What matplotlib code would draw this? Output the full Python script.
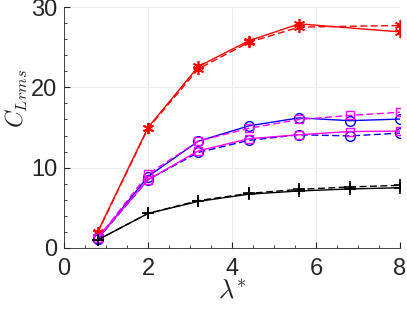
import numpy as np
import matplotlib
matplotlib.use("Agg")
import matplotlib.pyplot as plt
from matplotlib.ticker import MultipleLocator

plt.rcParams['font.family'] = ['Liberation Sans', 'DejaVu Sans']
plt.rcParams['mathtext.fontset'] = 'cm'
plt.rcParams['lines.dashed_pattern'] = (5, 2.5)

lam = [0.8, 2, 3.2, 4.4, 5.6, 6.8, 8]
lam_red = [0.8, 2, 3.2, 4.4, 5.6, 8]

red_solid = [2.0, 15.0, 22.6, 25.8, 27.9, 26.9]
red_dash = [1.9, 14.9, 22.3, 25.6, 27.5, 27.7]
blue_solid = [1.1, 8.9, 13.3, 15.2, 16.2, 15.85, 16.05]
blue_dash = [1.1, 8.5, 11.9, 13.4, 14.1, 13.95, 14.3]
mag_solid = [1.2, 8.5, 12.1, 13.6, 14.1, 14.5, 14.55]
mag_dash = [1.2, 9.2, 13.3, 14.9, 16.0, 16.5, 16.9]
blk_solid = [1.0, 4.3, 5.8, 6.7, 7.1, 7.35, 7.5]
blk_dash = [1.0, 4.3, 5.9, 6.8, 7.3, 7.6, 7.8]

fig = plt.figure(figsize=(4.07, 3.09), dpi=100)
ax = fig.add_axes([64/407, 1-248/309, 336/407, 241/309])

lw = 1.0
ms = 7
ax.plot(lam_red, red_solid, '-', color='red', marker=(6, 2, 0), ms=ms+1, mew=1.2, lw=lw)
ax.plot(lam_red, red_dash, '--', color='red', marker=(6, 2, 0), ms=ms+1, mew=1.2, lw=lw)
ax.plot(lam, blue_solid, '-o', color='blue', mfc='none', ms=ms, lw=lw)
ax.plot(lam, blue_dash, '--o', color='blue', mfc='none', ms=ms, lw=lw)
ax.plot(lam, mag_solid, '-s', color='magenta', mfc='none', ms=ms-1, lw=lw)
ax.plot(lam, mag_dash, '--s', color='magenta', mfc='none', ms=ms-1, lw=lw)
ax.plot(lam, blk_solid, '-+', color='black', ms=ms+2, mew=1.2, lw=lw)
ax.plot(lam, blk_dash, '--+', color='black', ms=ms+2, mew=1.2, lw=lw)

ax.set_xlim(0, 8)
ax.set_ylim(0, 30)
ax.xaxis.set_major_locator(MultipleLocator(2))
ax.xaxis.set_minor_locator(MultipleLocator(0.5))
ax.yaxis.set_major_locator(MultipleLocator(10))
ax.yaxis.set_minor_locator(MultipleLocator(2))
ax.grid(True, which='major', color='#ebebeb', lw=0.8)
ax.set_axisbelow(True)

for s in ['top', 'right']:
    ax.spines[s].set_visible(False)
for s in ['left', 'bottom']:
    ax.spines[s].set_color('#262626')
    ax.spines[s].set_linewidth(0.6)

ax.tick_params(which='both', direction='in', colors='#262626', labelsize=17)
ax.tick_params(which='major', length=4)
ax.tick_params(which='minor', length=2.5)
ax.tick_params(axis='x', pad=7)
ax.tick_params(axis='y', pad=5)

ax.set_xlabel(r'$\lambda^{*}$', fontsize=19, labelpad=-1, color='#262626')
ax.set_ylabel(r'$C_{Lrms}$', fontsize=17, color='#262626')
ax.yaxis.set_label_coords(-0.1, 0.62)

fig.savefig('out.png', dpi=100)
